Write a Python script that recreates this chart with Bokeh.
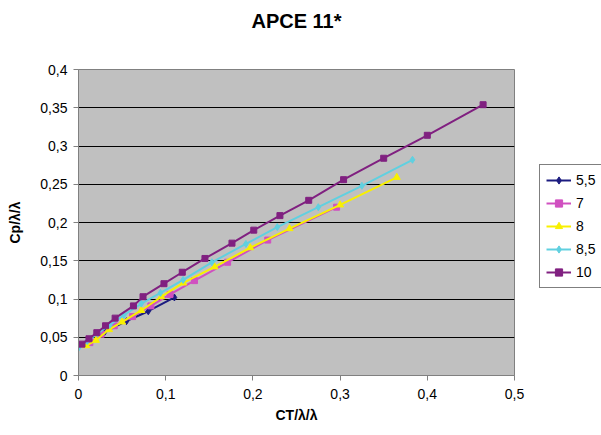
from bokeh.plotting import figure
from bokeh.models import Legend, LegendItem, FixedTicker, Range1d, Title
from bokeh.layouts import row
from bokeh.embed import file_html
from bokeh.resources import INLINE

series_names = ["5,5", "7", "8", "8,5", "10"]

x_55 = [0.030, 0.055, 0.080, 0.110]
y_55 = [0.057, 0.071, 0.084, 0.102]

x_7 = [0.013, 0.026, 0.041, 0.062, 0.083, 0.105, 0.133, 0.171, 0.217, 0.296]
y_7 = [0.043, 0.054, 0.065, 0.077, 0.091, 0.106, 0.124, 0.148, 0.177, 0.220]

x_8 = [0.009, 0.020, 0.035, 0.050, 0.072, 0.095, 0.120, 0.156, 0.197, 0.242, 0.300, 0.365]
y_8 = [0.039, 0.046, 0.060, 0.070, 0.085, 0.103, 0.121, 0.142, 0.167, 0.192, 0.223, 0.259]

x_85 = [0.000, 0.010, 0.022, 0.036, 0.052, 0.072, 0.094, 0.120, 0.153, 0.192, 0.228, 0.275, 0.325, 0.383]
y_85 = [0.036, 0.045, 0.055, 0.066, 0.079, 0.094, 0.108, 0.125, 0.148, 0.172, 0.194, 0.220, 0.248, 0.282]

x_10 = [0.004, 0.012, 0.021, 0.031, 0.042, 0.063, 0.074, 0.098, 0.119, 0.145, 0.176, 0.201,
        0.231, 0.264, 0.304, 0.350, 0.400, 0.464]
y_10 = [0.041, 0.048, 0.056, 0.065, 0.075, 0.091, 0.103, 0.120, 0.135, 0.153, 0.173, 0.190,
        0.209, 0.229, 0.256, 0.284, 0.314, 0.354]

x_ticks = [0, 0.1, 0.2, 0.3, 0.4, 0.5]
x_tick_labels = ["0", "0,1", "0,2", "0,3", "0,4", "0,5"]
y_ticks = [0, 0.05, 0.1, 0.15, 0.2, 0.25, 0.3, 0.35, 0.4]
y_tick_labels = ["0", "0,05", "0,1", "0,15", "0,2", "0,25", "0,3", "0,35", "0,4"]

FONT = "Liberation Sans"

p = figure(width=530, height=435, output_backend="svg", toolbar_location=None,
           x_range=Range1d(0, 0.5), y_range=Range1d(0, 0.4),
           min_border_left=78, min_border_right=16, min_border_top=69, min_border_bottom=60)
p.border_fill_color = "white"
p.background_fill_color = "#c0c0c0"
p.outline_line_color = "#808080"
p.outline_line_width = 1

p.title.text = "APCE 11*"
p.title.align = "center"
p.title.text_font = FONT
p.title.text_font_size = "20px"
p.title.text_font_style = "bold"
p.title.text_color = "black"
# spacer between the title and the plot area, so the title sits near the top
p.add_layout(Title(text=" ", text_font_size="28px", standoff=0), "above")

p.xaxis.ticker = FixedTicker(ticks=x_ticks)
p.yaxis.ticker = FixedTicker(ticks=y_ticks)
p.xaxis.major_label_overrides = {t: l for t, l in zip(x_ticks, x_tick_labels)}
p.yaxis.major_label_overrides = {t: l for t, l in zip(y_ticks, y_tick_labels)}
for ax in (p.xaxis, p.yaxis):
    ax.minor_tick_line_color = None
    ax.major_tick_in = 0
    ax.major_tick_out = 5
    ax.axis_line_color = "#808080"
    ax.major_tick_line_color = "#808080"
    ax.major_label_text_font = FONT
    ax.major_label_text_font_size = "14px"
    ax.major_label_text_color = "black"
    ax.axis_label_text_font = FONT
    ax.axis_label_text_font_size = "14px"
    ax.axis_label_text_font_style = "bold"
    ax.axis_label_text_color = "black"
p.xaxis.axis_label = "CT/λ/λ"
p.yaxis.axis_label = "Cp/λ/λ"
p.xaxis.major_label_standoff = 8
p.yaxis.major_label_standoff = 6
p.yaxis.axis_label_standoff = 14

p.xgrid.grid_line_color = None
p.ygrid.grid_line_color = "black"
p.ygrid.grid_line_width = 1

colors = ["#1c1c80", "#d050c0", "#f8f000", "#60d0e0", "#802080"]
markers = ["diamond", "square", "triangle", "diamond", "square"]
sizes = [7, 6, 7, 7, 6]
xs = [x_55, x_7, x_8, x_85, x_10]
ys = [y_55, y_7, y_8, y_85, y_10]

for xv, yv, c, m, s in zip(xs, ys, colors, markers, sizes):
    p.line(xv, yv, line_color=c, line_width=2)
    p.scatter(xv, yv, marker=m, size=s, fill_color=c, line_color=c)

# Legend panel: a separate small figure holding legend proxies (off-range)
p2 = figure(width=71, height=435, output_backend="svg", toolbar_location=None,
            x_range=Range1d(0, 1), y_range=Range1d(0, 1),
            min_border_left=0, min_border_right=0, min_border_top=0, min_border_bottom=0)
p2.axis.visible = False
p2.grid.grid_line_color = None
p2.outline_line_color = None
p2.background_fill_color = "white"
p2.border_fill_color = "white"

items = []
for name, c, m, s in zip(series_names, colors, markers, sizes):
    r1 = p2.line([-5, -4], [-5, -4], line_color=c, line_width=2)
    r2 = p2.scatter([-5], [-5], marker=m, size=s, fill_color=c, line_color=c)
    items.append(LegendItem(label=name, renderers=[r1, r2]))

legend = Legend(items=items, location=(9, 87))
legend.label_text_font = FONT
legend.label_text_font_size = "14px"
legend.label_text_color = "black"
legend.border_line_color = "black"
legend.border_line_width = 1
legend.background_fill_color = "white"
legend.background_fill_alpha = 1
legend.glyph_width = 25
legend.glyph_height = 18
legend.label_height = 18
legend.spacing = 5
legend.padding = 6
legend.margin = 0
legend.label_standoff = 5
p2.add_layout(legend, "center")

layout = row(p, p2)
open("out.html", "w").write(file_html(layout, INLINE))
